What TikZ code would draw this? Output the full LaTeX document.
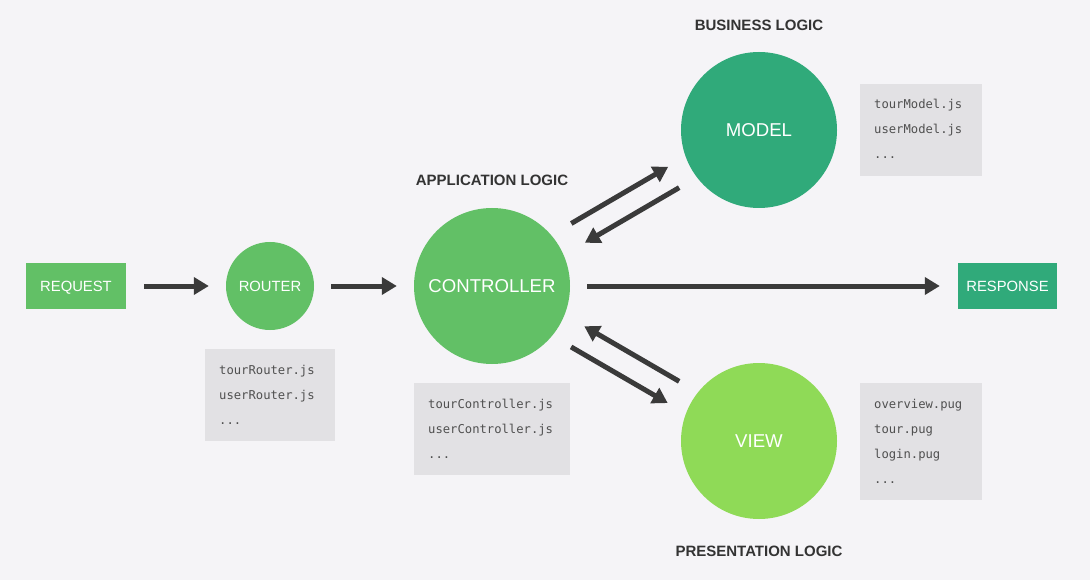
\documentclass[tikz,border=0pt]{standalone}
\usepackage{fontspec}
\setmainfont{Liberation Sans}
\newfontfamily\monof{DejaVu Sans Mono}
\usetikzlibrary{arrows.meta,calc}
\definecolor{bg}{HTML}{F5F4F7}
\definecolor{gmid}{HTML}{62C066}
\definecolor{gteal}{HTML}{30AA7A}
\definecolor{glime}{HTML}{8FDA57}
\definecolor{filebg}{HTML}{E2E1E4}
\definecolor{filetxt}{HTML}{505050}
\definecolor{headtxt}{HTML}{333333}
\definecolor{arrowc}{HTML}{3A3A3A}
\begin{document}
\begin{tikzpicture}[x=1pt,y=-1pt,
  boxnode/.style={rectangle, inner sep=0pt, text=white, font=\fontsize{14.8}{16}\selectfont, text height=10.6pt, text depth=0pt},
  smallcirc/.style={circle, inner sep=0pt, minimum size=88pt, fill=gmid, text=white, font=\fontsize{14.8}{16}\selectfont, text height=10.6pt, text depth=0pt},
  bigcirc/.style={circle, inner sep=0pt, minimum size=156pt, text=white, font=\fontsize{18.6}{20}\selectfont, text height=13.3pt, text depth=0pt},
  heading/.style={text=headtxt, font=\bfseries\fontsize{15}{16}\selectfont, inner sep=0pt, text height=10.7pt, text depth=0pt},
  filebox/.style={rectangle, fill=filebg, inner sep=0pt, anchor=north west},
  fileline/.style={anchor=west, inner sep=0pt, text=filetxt, font=\monof\fontsize{12.2}{14}\selectfont, text height=8.5pt, text depth=2.5pt},
  arr/.style={draw=arrowc, line width=5pt, -{Triangle[length=15pt,width=17pt]}}
]
\fill[bg] (0,0) rectangle (1090,580);
\useasboundingbox (0,0) rectangle (1090,580);

% main nodes
\node[boxnode, fill=gmid, minimum width=100pt, minimum height=46pt] (req) at (76,286) {REQUEST};
\node[smallcirc] (router) at (270,286) {ROUTER};
\node[bigcirc, fill=gmid] (ctrl) at (492,286) {CONTROLLER};
\node[bigcirc, fill=gteal] (model) at (759,130) {MODEL};
\node[bigcirc, fill=glime] (view) at (759,441) {VIEW};
\node[boxnode, fill=gteal, minimum width=99pt, minimum height=46pt] (resp) at (1007.5,286) {RESPONSE};

% headings
\node[heading] (applbl) at (492,180) {APPLICATION LOGIC};
\node[heading] (buslbl) at (759,25) {BUSINESS LOGIC};
\node[heading] (preslbl) at (759,551) {PRESENTATION LOGIC};

% file boxes
\node[filebox, minimum width=130pt, minimum height=92pt] (rfiles) at (205,349) {};
\node[fileline] (rf1) at (219,371.5) {tourRouter.js};
\node[fileline] (rf2) at (219,396.5) {userRouter.js};
\node[fileline] (rf3) at (219,421.5) {...};

\node[filebox, minimum width=156pt, minimum height=92pt] (cfiles) at (414,383) {};
\node[fileline] (cf1) at (428,405.5) {tourController.js};
\node[fileline] (cf2) at (428,430.5) {userController.js};
\node[fileline] (cf3) at (428,455.5) {...};

\node[filebox, minimum width=122pt, minimum height=92pt] (mfiles) at (860,84) {};
\node[fileline] (mf1) at (874,105.5) {tourModel.js};
\node[fileline] (mf2) at (874,130.5) {userModel.js};
\node[fileline] (mf3) at (874,155.5) {...};

\node[filebox, minimum width=122pt, minimum height=117pt] (vfiles) at (860,383) {};
\node[fileline] (vf1) at (874,405.5) {overview.pug};
\node[fileline] (vf2) at (874,430.5) {tour.pug};
\node[fileline] (vf3) at (874,455.5) {login.pug};
\node[fileline] (vf4) at (874,480.5) {...};

% straight arrows
\draw[arr, shorten <=18pt, shorten >=17pt] (req) -- (router);
\draw[arr, shorten <=17pt, shorten >=17pt] (router) -- (ctrl);
\draw[arr, shorten <=17pt, shorten >=18pt] (ctrl) -- (resp);

% diagonal arrows (offset pairs)
\coordinate (cm1) at ($(ctrl)!14pt!90:(model)$);
\coordinate (mc1) at ($(model)!14pt!-90:(ctrl)$);
\coordinate (cm2) at ($(ctrl)!9.5pt!-90:(model)$);
\coordinate (mc2) at ($(model)!9.5pt!90:(ctrl)$);
\draw[arr, shorten <=100pt, shorten >=97pt] (cm1) -- (mc1);
\draw[arr, shorten <=98pt, shorten >=102pt] (mc2) -- (cm2);

\coordinate (cv1) at ($(ctrl)!13pt!-90:(view)$);
\coordinate (vc1) at ($(view)!13pt!90:(ctrl)$);
\coordinate (cv2) at ($(ctrl)!11.5pt!90:(view)$);
\coordinate (vc2) at ($(view)!11.5pt!-90:(ctrl)$);
\draw[arr, shorten <=99pt, shorten >=98pt] (cv1) -- (vc1);
\draw[arr, shorten <=99pt, shorten >=100pt] (vc2) -- (cv2);
\end{tikzpicture}
\end{document}
